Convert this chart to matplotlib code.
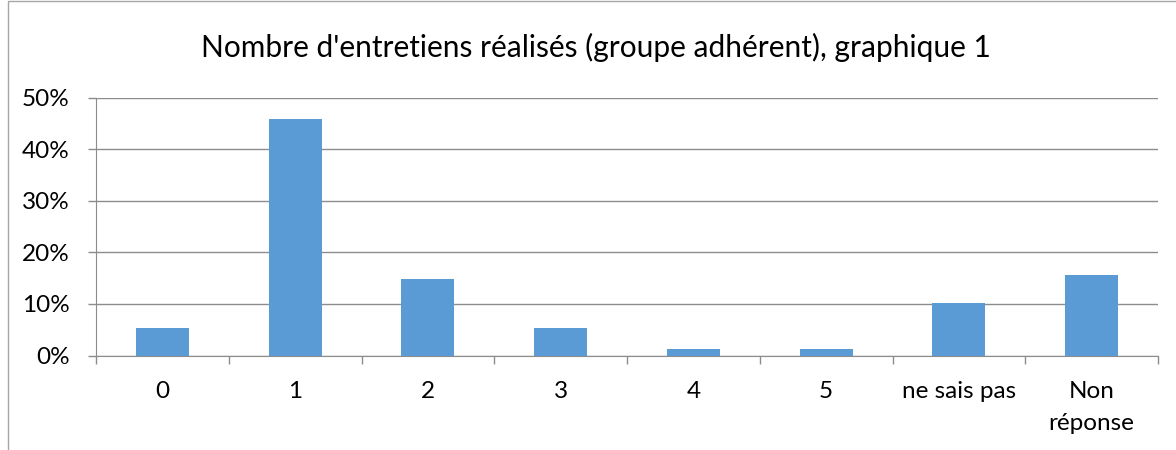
import numpy as np
import matplotlib
matplotlib.use('Agg')
import matplotlib.pyplot as plt
from matplotlib.ticker import FixedLocator, PercentFormatter
from matplotlib.patches import Rectangle

# Donnees
categories = ['0', '1', '2', '3', '4', '5', 'ne sais pas', 'Non\nréponse']
valeurs = [5.4, 45.8, 14.9, 5.4, 1.3, 1.3, 10.2, 15.7]
titre = "Nombre d'entretiens réalisés (groupe adhérent), graphique 1"

plt.rcParams['font.family'] = ['Lato', 'DejaVu Sans']

fig = plt.figure(figsize=(11.76, 4.5), dpi=100)
ax = fig.add_axes([96/1176, 1 - 355.5/450, (1158 - 96)/1176, (355.5 - 97.7)/450])

x = np.arange(len(categories))
ax.bar(x, valeurs, width=0.4, color='#5b9bd5', zorder=3)

ax.set_xlim(-0.5, len(categories) - 0.5)
ax.set_ylim(0, 50)
ax.set_yticks(np.arange(0, 51, 10))
ax.yaxis.set_major_formatter(PercentFormatter(decimals=0))
ax.grid(axis='y', color='#8c8c8c', linewidth=1, zorder=0)

# etiquettes au centre, petits traits entre les categories
ax.set_xticks(x)
ax.set_xticklabels(categories, fontsize=17.5, linespacing=1.7)
ax.xaxis.set_minor_locator(FixedLocator(np.arange(-0.5, len(categories), 1)))
ax.tick_params(axis='x', which='major', length=0, pad=18)
ax.tick_params(axis='x', which='minor', length=6, color='#8c8c8c', width=1)
ax.tick_params(axis='y', length=6, color='#8c8c8c', width=1, labelsize=17.5, pad=13)

for s in ['top', 'right']:
    ax.spines[s].set_visible(False)
for s in ['left', 'bottom']:
    ax.spines[s].set_color('#8c8c8c')

fig.text(596/1176, 1 - 47/450, titre, ha='center', va='center', fontsize=21.5)

# cadre du graphique
fig.patches.append(Rectangle((8/1176, -0.1), 1.2, 1.1 - 1/450, transform=fig.transFigure,
                             fill=False, edgecolor='#a6a6a6', linewidth=1))

fig.savefig('out.png', dpi=100)
